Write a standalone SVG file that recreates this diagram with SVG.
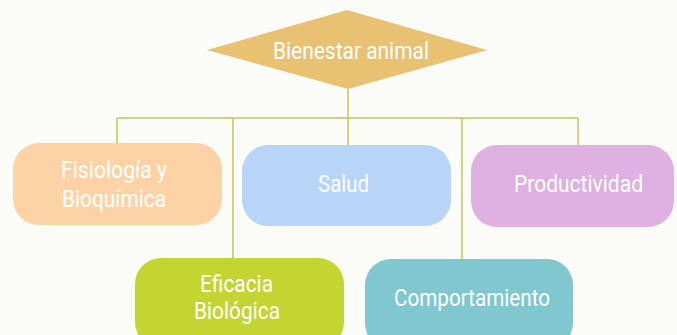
<svg xmlns="http://www.w3.org/2000/svg" width="677" height="335" viewBox="0 0 677 335">
<style>
.lbl{font-family:Roboto,"Liberation Sans",sans-serif;font-size:23px;font-weight:400;fill:#ffffff;text-anchor:middle}
.conn{fill:none;stroke:#C5C65A;stroke-width:1.5}
</style>
<rect x="0" y="0" width="677" height="335" fill="#FBFBF8"/>
<g id="connectors">
<path class="conn" d="M348,89 V118 M117,118 H578 M117,118 V143 M233,118 V258 M348,118 V145 M462,118 V259 M578,118 V145"/>
</g>
<g id="bienestar">
<polygon points="347,10 487,50 348,89 207,50" fill="#E9C173"/>
<text class="lbl" x="351" y="59" textLength="156" lengthAdjust="spacingAndGlyphs">Bienestar animal</text>
</g>
<g id="fisiologia">
<rect x="13" y="143" width="209" height="82" rx="26" fill="#FDD3A6"/>
<text class="lbl" x="114" y="178" textLength="106" lengthAdjust="spacingAndGlyphs">Fisiología y</text>
<text class="lbl" x="114" y="207" textLength="104" lengthAdjust="spacingAndGlyphs">Bioquímica</text>
</g>
<g id="salud">
<rect x="242" y="145" width="209" height="81" rx="26" fill="#B8D4F6"/>
<text class="lbl" x="343.5" y="192" textLength="51" lengthAdjust="spacingAndGlyphs">Salud</text>
</g>
<g id="productividad">
<rect x="471" y="145" width="203" height="82" rx="26" fill="#DEB1E2"/>
<text class="lbl" x="578.5" y="192" textLength="129" lengthAdjust="spacingAndGlyphs">Productividad</text>
</g>
<g id="eficacia">
<rect x="135" y="258" width="209" height="90" rx="26" fill="#C3D530"/>
<text class="lbl" x="236.5" y="292" textLength="73" lengthAdjust="spacingAndGlyphs">Eficacia</text>
<text class="lbl" x="237" y="319" textLength="86" lengthAdjust="spacingAndGlyphs">Biológica</text>
</g>
<g id="comportamiento">
<rect x="365" y="259" width="208" height="90" rx="26" fill="#80C7D0"/>
<text class="lbl" x="472" y="306" textLength="156" lengthAdjust="spacingAndGlyphs">Comportamiento</text>
</g>
</svg>
